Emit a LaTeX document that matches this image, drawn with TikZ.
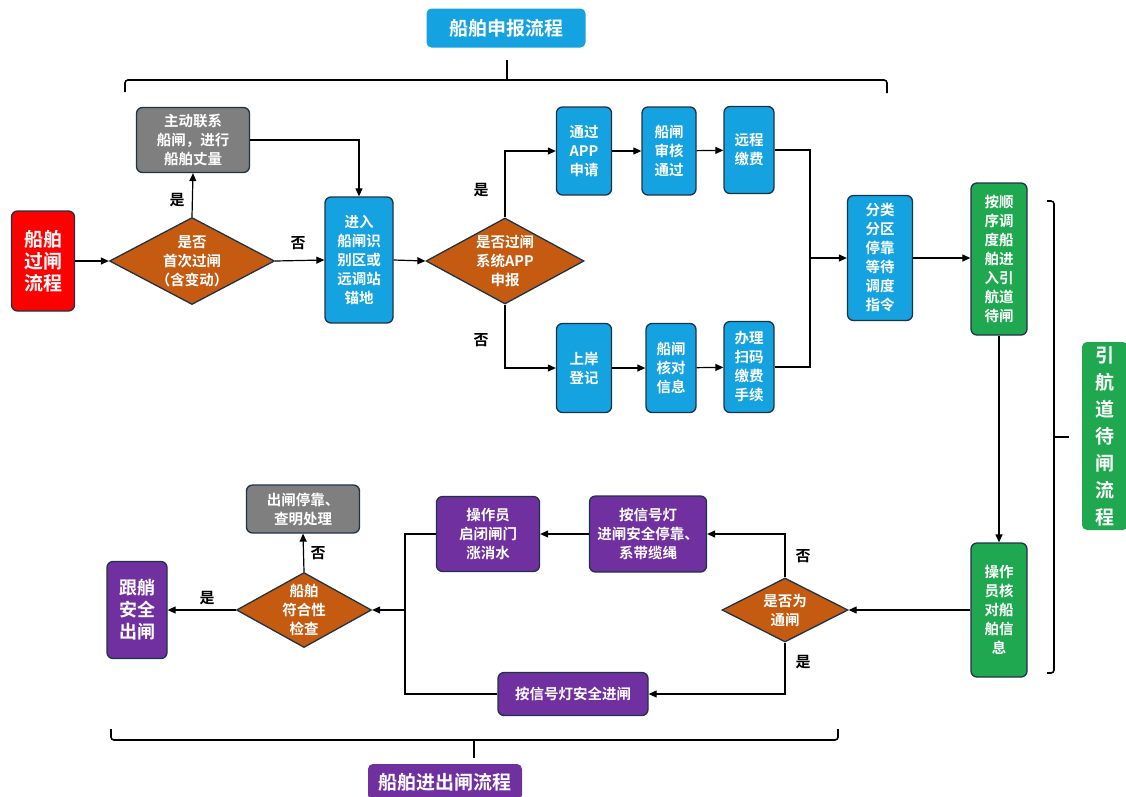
\documentclass[tikz,border=0pt]{standalone}
\usepackage{fontspec}
\setmainfont{Noto Sans CJK SC}[BoldFont={Noto Sans CJK SC Bold}]
\usetikzlibrary{shapes.geometric,arrows.meta}
\definecolor{bd}{HTML}{1F3347}
\definecolor{cblue}{HTML}{14A3E0}
\definecolor{cgreen}{HTML}{1FA84F}
\definecolor{cpurple}{HTML}{7030A0}
\definecolor{corange}{HTML}{C55A11}
\definecolor{cgray}{HTML}{7F7F7F}
\definecolor{cred}{HTML}{FF0000}
\tikzset{
  box/.style={draw=bd, line width=1.3pt, rounded corners=6pt, text=white, align=center, inner sep=0pt,
    font=\bfseries\fontsize{14.5}{19}\selectfont},
  bbox/.style={box, fill=cblue},
  gbox/.style={box, fill=cgreen},
  pbox/.style={box, fill=cpurple},
  greybox/.style={box, fill=cgray},
  dia/.style={diamond, draw=bd, fill=corange, line width=1.3pt, inner sep=0pt},
  dtext/.style={text=white, align=center, font=\bfseries\fontsize{14.5}{19}\selectfont},
  title/.style={rounded corners=5pt, text=white, align=center, inner sep=0pt,
    font=\bfseries\fontsize{19}{27}\selectfont},
  arr/.style={-{Triangle[length=8pt,width=7pt]}, line width=1.2pt},
  ln/.style={line width=1.2pt},
  brk/.style={line width=1.6pt, rounded corners=3pt},
  yn/.style={font=\bfseries\fontsize{15}{15}\selectfont, text=black}
}
\begin{document}
\begin{tikzpicture}[x=1pt,y=-1pt]
\useasboundingbox[fill=white] (0,0) rectangle (1126,796);

% titles
\node[title, fill=cblue, minimum width=159, minimum height=39] (t1) at (506,28) {船舶申报流程};
\node[title, fill=cgreen, minimum width=46, minimum height=188] (t3) at (1105,436) {引\\航\\道\\待\\闸\\流\\程};
\node[title, fill=cpurple, minimum width=154, minimum height=36] (t2) at (445,782) {船舶进出闸流程};

% brackets
\draw[brk] (125,92) -- (125,80) -- (887,80) -- (887,93);
\draw[line width=1.6pt] (507,80) -- (507,60);
\draw[brk] (1047,201) -- (1054,201) -- (1054,673) -- (1047,673);
\draw[line width=1.6pt] (1054,437) -- (1069,437);
\draw[brk] (111,729) -- (111,740) -- (838,740) -- (838,729);
\draw[line width=1.6pt] (474,740) -- (474,758);

% upper nodes
\node[box, fill=cred, minimum width=63, minimum height=100, font=\bfseries\fontsize{19}{22}\selectfont] (start) at (43,261) {船舶\\过闸\\流程};
\node[dia, minimum width=165, minimum height=87, label={[dtext]center:{是否\\首次过闸\\（含变动）}}] (d1) at (192,261) {};
\node[greybox, minimum width=113, minimum height=65] (g1) at (193,140) {主动联系\\船闸，进行\\船舶丈量};
\node[bbox, minimum width=68, minimum height=126] (enter) at (359,260) {进入\\船闸识\\别区或\\远调站\\锚地};
\node[dia, minimum width=158, minimum height=86, label={[dtext]center:{是否过闸\\系统APP\\申报}}] (d2) at (505,261) {};
\node[bbox, minimum width=55, minimum height=88] (a1) at (584,151) {通过\\APP\\申请};
\node[bbox, minimum width=54, minimum height=88] (a2) at (669,151) {船闸\\审核\\通过};
\node[bbox, minimum width=50, minimum height=87] (a3) at (749,150) {远程\\缴费};
\node[bbox, minimum width=55, minimum height=89] (b1) at (584,368) {上岸\\登记};
\node[bbox, minimum width=50, minimum height=89] (b2) at (671,368) {船闸\\核对\\信息};
\node[bbox, minimum width=50, minimum height=91] (b3) at (749,367) {办理\\扫码\\缴费\\手续};
\node[bbox, minimum width=65, minimum height=125] (sort) at (880,258) {分类\\分区\\停靠\\等待\\调度\\指令};
\node[gbox, minimum width=56, minimum height=152] (q1) at (999,259) {按顺\\序调\\度船\\舶进\\入引\\航道\\待闸};
\node[gbox, minimum width=56, minimum height=134] (q2) at (999,610) {操作\\员核\\对船\\舶信\\息};

% lower nodes
\node[dia, minimum width=126, minimum height=64, label={[dtext]center:{是否为\\通闸}}] (d3) at (785,610) {};
\node[pbox, minimum width=117, minimum height=76] (p1) at (648,534) {按信号灯\\进闸安全停靠、\\系带缆绳};
\node[pbox, minimum width=103, minimum height=75] (p2) at (488,534) {操作员\\启闭闸门\\涨消水};
\node[pbox, minimum width=150, minimum height=43] (p3) at (573,694) {按信号灯安全进闸};
\node[dia, minimum width=135, minimum height=75, label={[dtext]center:{船舶\\符合性\\检查}}] (d4) at (304,610) {};
\node[greybox, minimum width=113, minimum height=48] (g2) at (303,509) {出闸停靠、\\查明处理};
\node[pbox, minimum width=60, minimum height=97, font=\bfseries\fontsize{18}{22}\selectfont] (fin) at (137,610) {跟艄\\安全\\出闸};

% yes/no labels
\node[yn] (l1) at (177,200) {是};
\node[yn] (l2) at (298,243) {否};
\node[yn] (l3) at (481,190) {是};
\node[yn] (l4) at (481,340) {否};
\node[yn] (l5) at (803,556) {否};
\node[yn] (l6) at (803,662) {是};
\node[yn] (l7) at (318,553) {否};
\node[yn] (l8) at (207,598) {是};

% connectors
\draw[arr] (start) -- (d1);
\draw[arr] (d1.north) -- (g1.south);
\draw[arr] (d1.east) -- (enter.west);
\draw[arr] (g1.east) -| (enter.north);
\draw[arr] (enter.east) -- (d2.west);
\draw[arr] (d2.north) |- (a1.west);
\draw[arr] (d2.south) |- (b1.west);
\draw[arr] (a1) -- (a2);
\draw[arr] (a2) -- (a3);
\draw[arr] (b1) -- (b2);
\draw[arr] (b2) -- (b3);
\coordinate (m) at (810,258);
\draw[ln] (a3.east) -| (m);
\draw[ln] (b3.east) -| (m);
\draw[arr] (m) -- (sort.west);
\draw[arr] (sort.east) -- (q1.west |- sort.east);
\draw[arr] (q1.south) -- (q2.north);
\draw[arr] (q2.west) -- (d3.east);
\draw[arr] (d3.north) |- (p1.east);
\draw[arr] (d3.south) |- (p3.east);
\draw[arr] (p1.west) -- (p2.east);
\coordinate (j) at (405,610);
\draw[ln] (p2.west) -| (j);
\draw[ln] (p3.west) -| (j);
\draw[arr] (j) -- (d4.east);
\draw[arr] (d4.north) -- (g2.south);
\draw[arr] (d4.west) -- (fin.east);
\end{tikzpicture}
\end{document}
